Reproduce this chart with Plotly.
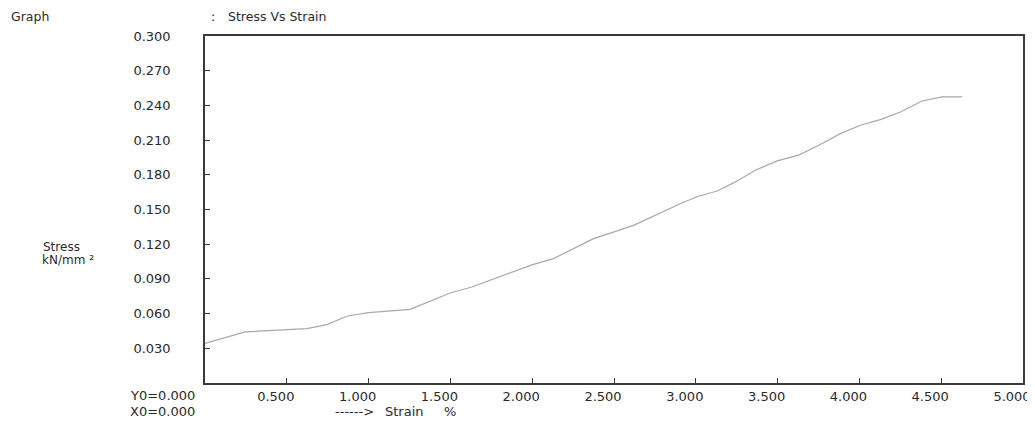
import plotly.graph_objects as go

strain = [0.0, 0.245, 0.622, 0.745, 0.867, 0.999, 1.254, 1.498, 1.631, 1.876, 2.008,
          2.130, 2.375, 2.528, 2.619, 2.905, 3.007, 3.130, 3.231, 3.364, 3.497, 3.629,
          3.752, 3.884, 4.006, 4.128, 4.251, 4.383, 4.506, 4.628]
stress = [0.0343, 0.0442, 0.0470, 0.0505, 0.0577, 0.0609, 0.0637, 0.0778, 0.0830, 0.0960, 0.1026,
          0.1075, 0.1248, 0.1320, 0.1363, 0.1550, 0.1610, 0.1660, 0.1730, 0.1840, 0.1920, 0.1970,
          0.2055, 0.2156, 0.2228, 0.2277, 0.2343, 0.2438, 0.2473, 0.2473]

x_ticks = [0.5, 1.0, 1.5, 2.0, 2.5, 3.0, 3.5, 4.0, 4.5, 5.0]
x_labels = ["0.500", "1.000", "1.500", "2.000", "2.500", "3.000", "3.500", "4.000", "4.500", "5.000"]
y_ticks = [0.03, 0.06, 0.09, 0.12, 0.15, 0.18, 0.21, 0.24, 0.27, 0.30]
y_labels = ["0.030", "0.060", "0.090", "0.120", "0.150", "0.180", "0.210", "0.240", "0.270", "0.300"]

# page body has an 8px margin; work in page pixels and convert
OFF = 8
PW, PH = 1035, 424
W, H = PW - OFF, PH - OFF
L, R, T, B = 205 - OFF, 1023 - OFF, 35.5 - OFF, 382.7 - OFF

def px(x):
    return (x - OFF - L) / (R - L)

def py(y):
    return (B - (y - OFF)) / (B - T)

FONT = "DejaVu Sans, Liberation Sans, Arial, sans-serif"
TXT = "#2a2a2a"
FS = 13

fig = go.Figure()
fig.add_trace(go.Scatter(x=strain, y=stress, mode="lines",
                         line=dict(color="#a8a8a8", width=1.2), hoverinfo="skip",
                         showlegend=False))

axis_common = dict(showline=True, linecolor="#3a3a3a", linewidth=1.6, mirror=True,
                   ticks="inside", ticklen=5, tickwidth=1.4, tickcolor="#3a3a3a",
                   showgrid=False, zeroline=False, automargin=False,
                   ticklabeloverflow="allow",
                   tickfont=dict(family=FONT, size=FS, color=TXT))

fig.update_layout(
    width=W, height=H,
    margin=dict(l=L, r=W - R, t=T, b=H - B, pad=0),
    paper_bgcolor="white", plot_bgcolor="white",
    font=dict(family=FONT, size=FS, color=TXT),
    xaxis=dict(range=[0, 5], tickvals=x_ticks, ticktext=x_labels, ticklabelstandoff=1,
               ticklabelshift=-11, **axis_common),
    yaxis=dict(range=[0, 0.3], tickvals=y_ticks, ticktext=y_labels, ticklabelstandoff=30, **axis_common),
)

annots = [
    ("Graph", 9, 15.5, 12.5),
    (":", 209, 15.5, 12.5),
    ("Stress Vs Strain", 226, 15.5, 12.5),
    ("Stress", 41, 247, 12),
    ("kN/mm \u00b2", 40, 260, 12),
    ("Y0=0.000", 128, 395.3, FS),
    ("X0=0.000", 128, 411, FS),
    ("------>", 333, 411, FS),
    ("Strain", 383, 411, FS),
    ("%", 442, 411, FS),
]
for text, x, y, fs in annots:
    fig.add_annotation(text=text, x=px(x), y=py(y), xref="paper", yref="paper",
                       xanchor="left", yanchor="middle", showarrow=False,
                       font=dict(family=FONT, size=fs, color=TXT))

fig.write_html("out.html")
